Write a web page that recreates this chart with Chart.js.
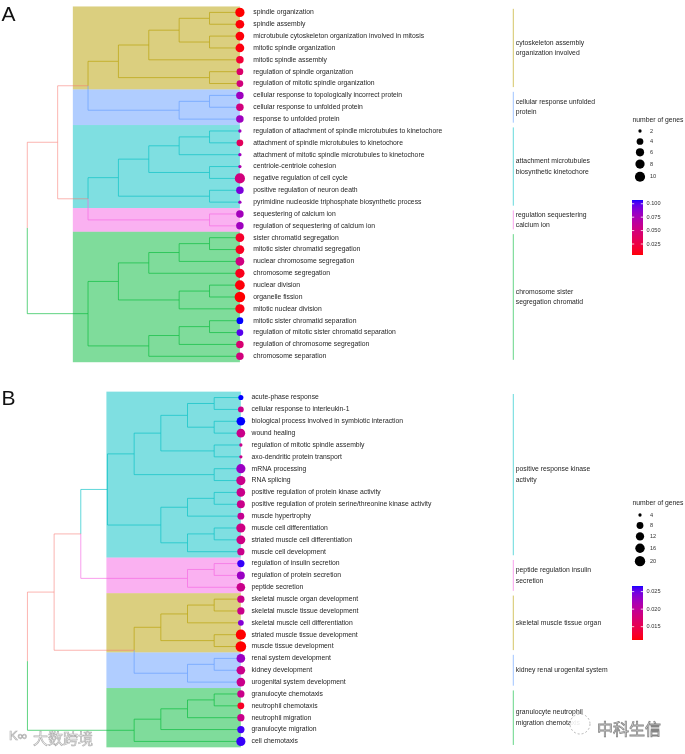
<!doctype html>
<html lang="en">
<head>
<meta charset="utf-8" />
<title>GO treeplot</title>
<script src="https://cdn.jsdelivr.net/npm/chart.js@4.4.0/dist/chart.umd.min.js"></script>
<style>
  body { margin: 0; background: #fff; }
  canvas { display: block; }
</style>
</head>
<body>
<canvas id="chartA" width="685" height="377"></canvas>
<canvas id="chartB" width="685" height="377"></canvas>
<script>
  // ---- panel A data ----
  var termsA = [
    "spindle organization", "spindle assembly",
    "microtubule cytoskeleton organization involved in mitosis",
    "mitotic spindle organization", "mitotic spindle assembly",
    "regulation of spindle organization", "regulation of mitotic spindle organization",
    "cellular response to topologically incorrect protein",
    "cellular response to unfolded protein", "response to unfolded protein",
    "regulation of attachment of spindle microtubules to kinetochore",
    "attachment of spindle microtubules to kinetochore",
    "attachment of mitotic spindle microtubules to kinetochore",
    "centriole-centriole cohesion", "negative regulation of cell cycle",
    "positive regulation of neuron death",
    "pyrimidine nucleoside triphosphate biosynthetic process",
    "sequestering of calcium ion", "regulation of sequestering of calcium ion",
    "sister chromatid segregation", "mitotic sister chromatid segregation",
    "nuclear chromosome segregation", "chromosome segregation", "nuclear division",
    "organelle fission", "mitotic nuclear division",
    "mitotic sister chromatid separation",
    "regulation of mitotic sister chromatid separation",
    "regulation of chromosome segregation", "chromosome separation"
  ];
  var countA = [8, 7, 7, 7, 5, 4, 4, 5, 5, 5, 2, 4, 2, 2, 10, 5, 2, 5, 5, 7, 7, 7, 8, 9, 11, 8, 4, 4, 5, 5];
  var padjA = [0.0045, 0.006, 0.006, 0.007, 0.02, 0.042, 0.05, 0.08, 0.05, 0.08,
               0.08, 0.035, 0.08, 0.072, 0.05, 0.092, 0.08, 0.078, 0.08, 0.015,
               0.012, 0.052, 0.01, 0.006, 0.0045, 0.008, 0.107, 0.1, 0.045, 0.05];
  // tree: [height, left, right], leaves are row numbers
  var treeA = [7,
    [6,
      [5, [4, [3, [2, [1, 0, 1], [1, 2, 3]], 4], [1, 5, 6]], [2, [1, 7, 8], 9]],
      [5, [4, [3, [2, [1, 10, 11], 12], [1, 13, 14]], [1, 15, 16]], [1, 17, 18]]],
    [5, [4, [3, [2, [1, 19, 20], 21], 22], [2, [1, 23, 24], 25]], [3, [2, [1, 26, 27], 28], 29]]];
  var clusterStartA = [0, 7, 10, 17, 19];
  var clusterEndA = [6, 9, 16, 18, 29];
  var clusterColorA = ["gold", "blue", "cyan", "pink", "green"];
  var clusterNameA = ["cytoskeleton assembly\norganization involved", "cellular response unfolded\nprotein",
                      "attachment microtubules\nbiosynthetic kinetochore", "regulation sequestering\ncalcium ion",
                      "chromosome sister\nsegregation chromatid"];
  var sizeTicksA = [2, 4, 6, 8, 10];
  var colorTicksA = [0.025, 0.05, 0.075, 0.1];

  // ---- panel B data ----
  var termsB = [
    "acute-phase response", "cellular response to interleukin-1",
    "biological process involved in symbiotic interaction", "wound healing",
    "regulation of mitotic spindle assembly", "axo-dendritic protein transport",
    "mRNA processing", "RNA splicing", "positive regulation of protein kinase activity",
    "positive regulation of protein serine/threonine kinase activity",
    "muscle hypertrophy", "muscle cell differentiation", "striated muscle cell differentiation",
    "muscle cell development", "regulation of insulin secretion", "regulation of protein secretion",
    "peptide secretion", "skeletal muscle organ development", "skeletal muscle tissue development",
    "skeletal muscle cell differentiation", "striated muscle tissue development",
    "muscle tissue development", "renal system development", "kidney development",
    "urogenital system development", "granulocyte chemotaxis", "neutrophil chemotaxis",
    "neutrophil migration", "granulocyte migration", "cell chemotaxis"
  ];
  var countB = [5, 6, 13, 13, 4, 4, 15, 15, 13, 11, 8, 15, 14, 9, 9, 11, 13, 9, 9, 6, 19, 21, 13, 13, 13, 9, 8, 9, 9, 15];
  var padjB = [0.0266, 0.019, 0.0266, 0.019, 0.019, 0.019, 0.0228, 0.019, 0.019, 0.019,
               0.0195, 0.0185, 0.0185, 0.019, 0.0262, 0.0228, 0.019, 0.019, 0.019, 0.024,
               0.0112, 0.0112, 0.0228, 0.019, 0.019, 0.019, 0.0125, 0.019, 0.026, 0.0262];
  var treeB = [8,
    [7,
      [6,
        [5, [4, [3, [2, [1, 0, 1], [1, 2, 3]], [1, 4, 5]], [1, 6, 7]],
            [3, [2, [1, 8, 9], 10], [2, [1, 11, 12], 13]]],
        [2, [1, 14, 15], 16]],
      [4, [3, [2, [1, 17, 18], 19], [1, 20, 21]], [2, [1, 22, 23], 24]]],
    [4, [3, [2, [1, 25, 26], 27], 28], 29]];
  var clusterStartB = [0, 14, 17, 22, 25];
  var clusterEndB = [13, 16, 21, 24, 29];
  var clusterColorB = ["cyan", "pink", "gold", "blue", "green"];
  var clusterNameB = ["positive response kinase\nactivity", "peptide regulation insulin\nsecretion",
                      "skeletal muscle tissue organ", "kidney renal urogenital system",
                      "granulocyte neutrophil\nmigration chemotaxis"];
  var sizeTicksB = [4, 8, 12, 16, 20];
  var colorTicksB = [0.015, 0.02, 0.025];

  var COLORS = { salmon: "#F8766D", gold: "#B79F00", green: "#00BA38", cyan: "#00BFC4", blue: "#619CFF", pink: "#F564E3" };
  var FONT = '"Liberation Sans", Arial, sans-serif';

  function rgba(hex, a) {
    var n = parseInt(hex.slice(1), 16);
    return "rgba(" + (n >> 16) + "," + ((n >> 8) & 255) + "," + (n & 255) + "," + a + ")";
  }

  // red -> blue gradient in Lab, like ggplot
  function lin(c) { c /= 255; return c <= 0.04045 ? c / 12.92 : Math.pow((c + 0.055) / 1.055, 2.4); }
  function gam(c) {
    c = c <= 0.0031308 ? 12.92 * c : 1.055 * Math.pow(Math.max(c, 0), 1 / 2.4) - 0.055;
    return Math.round(Math.max(0, Math.min(1, c)) * 255);
  }
  function toLab(rgb) {
    var r = lin(rgb[0]), g = lin(rgb[1]), b = lin(rgb[2]);
    var X = (0.4124 * r + 0.3576 * g + 0.1805 * b) / 0.95047;
    var Y = 0.2126 * r + 0.7152 * g + 0.0722 * b;
    var Z = (0.0193 * r + 0.1192 * g + 0.9505 * b) / 1.08883;
    var f = function(t) { return t > 0.008856 ? Math.cbrt(t) : 7.787 * t + 16 / 116; };
    return [116 * f(Y) - 16, 500 * (f(X) - f(Y)), 200 * (f(Y) - f(Z))];
  }
  function fromLab(lab) {
    var fy = (lab[0] + 16) / 116, fx = fy + lab[1] / 500, fz = fy - lab[2] / 200;
    var inv = function(t) { return t * t * t > 0.008856 ? t * t * t : (t - 16 / 116) / 7.787; };
    var X = inv(fx) * 0.95047, Y = inv(fy), Z = inv(fz) * 1.08883;
    var r = 3.2406 * X - 1.5372 * Y - 0.4986 * Z;
    var g = -0.9689 * X + 1.8758 * Y + 0.0415 * Z;
    var b = 0.0557 * X - 0.2040 * Y + 1.0570 * Z;
    return "rgb(" + gam(r) + "," + gam(g) + "," + gam(b) + ")";
  }
  var LAB_LO = toLab([255, 0, 0]), LAB_HI = toLab([0, 0, 255]);
  function padjColor(v, lo, hi) {
    var t = Math.max(0, Math.min(1, (v - lo) / (hi - lo)));
    return fromLab(LAB_LO.map(function(c, i) { return c + (LAB_HI[i] - c) * t; }));
  }
  function dotSize(c, lo, hi) {
    return 3.3 + (10.6 - 3.3) * Math.sqrt(Math.max(0, (c - lo) / (hi - lo)));
  }

  function layoutTree(node, groupOf, edges) {
    if (typeof node === "number") return { h: 0, y: node, g: groupOf[node] };
    var a = layoutTree(node[1], groupOf, edges), b = layoutTree(node[2], groupOf, edges);
    var me = { h: node[0], y: (a.y + b.y) / 2, g: a.g === b.g ? a.g : null };
    [a, b].forEach(function(k) { edges.push({ ph: me.h, py: me.y, ch: k.h, cy: k.y, g: k.g }); });
    return me;
  }

  function panelPlugin(P) {
    var groupOf = [];
    P.start.forEach(function(s, k) { for (var r = s; r <= P.end[k]; r++) groupOf[r] = P.colors[k]; });
    var edges = [];
    layoutTree(P.tree, groupOf, edges);
    var pLo = Math.min.apply(null, P.padj), pHi = Math.max.apply(null, P.padj);

    return {
      id: "treeplot" + P.letter,
      beforeDatasetsDraw: function(chart) {
        var ctx = chart.ctx, xs = chart.scales.x, ys = chart.scales.y;
        ctx.save();
        P.start.forEach(function(s, k) {
          var x0 = xs.getPixelForValue(P.rectLeft), x1 = xs.getPixelForValue(0);
          var y0 = ys.getPixelForValue(s - 0.5), y1 = ys.getPixelForValue(P.end[k] + 0.5);
          ctx.fillStyle = rgba(COLORS[P.colors[k]], 0.5);
          ctx.fillRect(x0, y0, x1 - x0, y1 - y0);
        });
        ctx.lineWidth = 0.9;
        edges.forEach(function(e) {
          var px = xs.getPixelForValue(e.ph), cx = xs.getPixelForValue(e.ch);
          var py = ys.getPixelForValue(e.py), cy = ys.getPixelForValue(e.cy);
          ctx.strokeStyle = rgba(COLORS[e.g || "salmon"], e.g ? 0.7 : 0.6);
          ctx.beginPath();
          ctx.moveTo(px, py);
          ctx.lineTo(px, cy);
          ctx.lineTo(cx, cy);
          ctx.stroke();
        });
        ctx.restore();
      },
      afterDatasetsDraw: function(chart) {
        var ctx = chart.ctx, xs = chart.scales.x, ys = chart.scales.y;
        ctx.save();
        // term labels
        ctx.fillStyle = "#262626";
        ctx.font = "6.8px " + FONT;
        ctx.textBaseline = "middle";
        var lx = xs.getPixelForValue(0) + P.labelGap;
        P.terms.forEach(function(t, i) { ctx.fillText(t, lx, ys.getPixelForValue(i)); });

        // cluster labels
        P.start.forEach(function(s, k) {
          var e = P.end[k];
          ctx.strokeStyle = rgba(COLORS[P.colors[k]], 0.6);
          ctx.lineWidth = 1;
          ctx.beginPath();
          ctx.moveTo(P.clusterX, ys.getPixelForValue(s - 0.3));
          ctx.lineTo(P.clusterX, ys.getPixelForValue(e + 0.3));
          ctx.stroke();
          var lines = P.names[k].split("\n");
          var yc = ys.getPixelForValue((s + e) / 2);
          ctx.fillStyle = "#262626";
          lines.forEach(function(l, j) {
            ctx.fillText(l, P.clusterX + 2.5, yc + (j - (lines.length - 1) / 2) * 10.5);
          });
        });

        // size legend
        ctx.fillStyle = "#262626";
        ctx.fillText("number of genes", 632.5, P.legendTitleY);
        var cLo = Math.min.apply(null, P.count), cHi = Math.max.apply(null, P.count);
        var y = P.legendKeyY, prevH = null;
        P.sizeTicks.forEach(function(v) {
          var d = dotSize(v, cLo, cHi), h = Math.max(10.5, d + 3);
          if (prevH !== null) y += (prevH + h) / 2;
          prevH = h;
          ctx.fillStyle = "#000";
          ctx.beginPath();
          ctx.arc(640, y, d / 2, 0, Math.PI * 2);
          ctx.fill();
          ctx.fillStyle = "#333";
          ctx.font = "5.6px " + FONT;
          ctx.fillText(String(v), 650, y);
        });

        // colour bar
        var bx0 = 632, bx1 = 643, by0 = P.barTop, by1 = P.barBottom;
        for (var py = by0; py < by1; py++) {
          var v = pHi - (py + 0.5 - by0) / (by1 - by0) * (pHi - pLo);
          ctx.fillStyle = padjColor(v, pLo, pHi);
          ctx.fillRect(bx0, py, bx1 - bx0, 1);
        }
        ctx.font = "5.6px " + FONT;
        P.colorTicks.forEach(function(v) {
          var ty = by0 + (pHi - v) / (pHi - pLo) * (by1 - by0);
          ctx.strokeStyle = "#fff";
          ctx.lineWidth = 0.8;
          ctx.beginPath();
          ctx.moveTo(bx0, ty); ctx.lineTo(bx0 + 2.2, ty);
          ctx.moveTo(bx1 - 2.2, ty); ctx.lineTo(bx1, ty);
          ctx.stroke();
          ctx.fillStyle = "#333";
          ctx.fillText(v.toFixed(3), bx1 + 3.5, ty);
        });

        // panel letter
        ctx.fillStyle = "#111";
        ctx.font = "21px " + FONT;
        ctx.textBaseline = "alphabetic";
        ctx.fillText(P.letter, 1.5, P.letterY);
        ctx.restore();
        if (P.after) P.after(ctx);
      }
    };
  }

  function makeChart(id, P) {
    var pLo = Math.min.apply(null, P.padj), pHi = Math.max.apply(null, P.padj);
    var cLo = Math.min.apply(null, P.count), cHi = Math.max.apply(null, P.count);
    return new Chart(document.getElementById(id), {
      type: "scatter",
      data: {
        datasets: [{
          data: P.terms.map(function(t, i) { return { x: 0, y: i }; }),
          pointRadius: function(c) { return dotSize(P.count[c.dataIndex], cLo, cHi) / 2; },
          pointBackgroundColor: function(c) { return padjColor(P.padj[c.dataIndex], pLo, pHi); },
          pointBorderWidth: 0
        }]
      },
      options: {
        responsive: false,
        animation: false,
        events: [],
        layout: { padding: 0 },
        plugins: { legend: { display: false }, tooltip: { enabled: false } },
        scales: {
          x: { type: "linear", display: false, reverse: true, min: P.xMin, max: P.xMax },
          y: { type: "linear", display: false, reverse: true, min: P.yMin, max: P.yMax }
        }
      },
      plugins: [panelPlugin(P)]
    });
  }

  makeChart("chartA", {
    letter: "A", letterY: 20.5,
    terms: termsA, count: countA, padj: padjA, tree: treeA,
    start: clusterStartA, end: clusterEndA, colors: clusterColorA, names: clusterNameA,
    sizeTicks: sizeTicksA, colorTicks: colorTicksA,
    xMin: -14.48, xMax: 7.724, yMin: -0.598, yMax: 30.30,
    rectLeft: 5.5, labelGap: 13.4, clusterX: 513.3,
    legendTitleY: 120, legendKeyY: 131, barTop: 200, barBottom: 255
  });

  makeChart("chartB", {
    letter: "B", letterY: 27.5,
    terms: termsB, count: countB, padj: padjB, tree: treeB,
    start: clusterStartB, end: clusterEndB, colors: clusterColorB, names: clusterNameB,
    sizeTicks: sizeTicksB, colorTicks: colorTicksB,
    xMin: -16.45, xMax: 8.83, yMin: -1.287, yMax: 29.615,
    rectLeft: 5.04, labelGap: 10.7, clusterX: 513.3,
    legendTitleY: 126, legendKeyY: 138, barTop: 209, barBottom: 263,
    after: function(ctx) {
      // watermarks
      ctx.save();
      ctx.font = '15px "Noto Sans CJK SC", sans-serif';
      ctx.textBaseline = "middle";
      ctx.lineWidth = 0.7;
      ctx.strokeStyle = "rgba(150,150,150,0.75)";
      ctx.fillStyle = "rgba(255,255,255,0.9)";
      ctx.fillText("大数跨境", 33, 361);
      ctx.strokeText("大数跨境", 33, 361);
      ctx.font = '13px ' + FONT;
      ctx.fillText("K\u221E", 9, 359);
      ctx.strokeText("K\u221E", 9, 359);
      ctx.beginPath();
      ctx.arc(580, 347, 10, 0, Math.PI * 2);
      ctx.fillStyle = "rgba(255,255,255,0.9)";
      ctx.fill();
      ctx.setLineDash([2, 2]);
      ctx.strokeStyle = "rgba(130,130,130,0.8)";
      ctx.stroke();
      ctx.setLineDash([]);
      ctx.font = '16px "Noto Sans CJK SC", sans-serif';
      ctx.fillStyle = "rgba(255,255,255,0.95)";
      ctx.strokeStyle = "rgba(120,120,120,0.9)";
      ctx.lineWidth = 0.8;
      ctx.fillText("中科生信", 597, 352);
      ctx.strokeText("中科生信", 597, 352);
      ctx.restore();
    }
  });
</script>
</body>
</html>
